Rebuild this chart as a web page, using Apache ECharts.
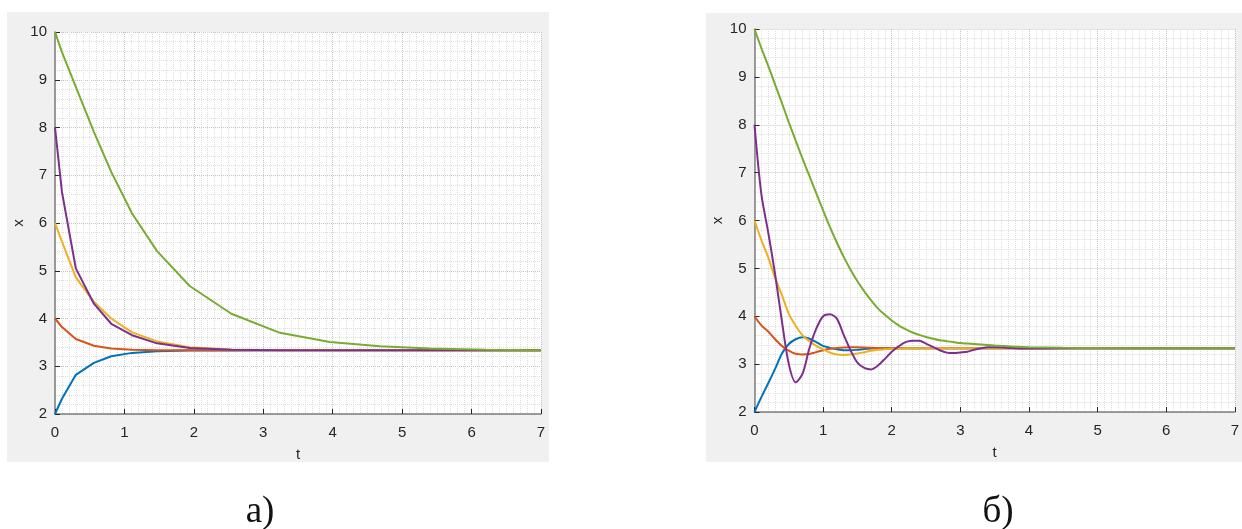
<!DOCTYPE html>
<html>
<head>
<meta charset="utf-8">
<script src="https://cdn.jsdelivr.net/npm/echarts@6/dist/echarts.min.js"></script>
<style>
html,body{margin:0;padding:0;background:#fff;}
#chart{width:1242px;height:529px;}
</style>
</head>
<body>
<div id="chart"></div>
<script>
// ---------- Panel а) : solver time points and values ----------
var tA = [0, 0.1, 0.3, 0.56, 0.81, 1.11, 1.47, 1.94, 2.54, 3.24, 3.96, 4.68, 5.40, 6.2, 7.0];
var xA_blue   = [2.0, 2.32, 2.82, 3.07, 3.21, 3.28, 3.315, 3.328, 3.332, 3.333, 3.333, 3.333, 3.333, 3.333, 3.333];
var xA_orange = [4.0, 3.82, 3.57, 3.43, 3.37, 3.345, 3.336, 3.334, 3.333, 3.333, 3.333, 3.333, 3.333, 3.333, 3.333];
var xA_yellow = [6.0, 5.61, 4.86, 4.35, 4.0, 3.71, 3.52, 3.40, 3.35, 3.337, 3.334, 3.333, 3.333, 3.333, 3.333];
var xA_purple = [8.0, 6.65, 5.05, 4.31, 3.89, 3.65, 3.48, 3.38, 3.345, 3.335, 3.333, 3.333, 3.333, 3.333, 3.333];
var xA_green  = [10.0, 9.58, 8.85, 7.91, 7.07, 6.20, 5.41, 4.68, 4.10, 3.70, 3.51, 3.42, 3.37, 3.345, 3.335];

// ---------- Panel б) ----------
var tB = [0, 0.1, 0.2, 0.3, 0.4, 0.5, 0.6, 0.7, 0.8, 0.9, 1.0, 1.1, 1.2, 1.3, 1.4, 1.5, 1.6, 1.7, 1.8, 1.9,
          2.0, 2.1, 2.2, 2.3, 2.4, 2.5, 2.6, 2.7, 2.8, 2.9, 3.0, 3.1, 3.2, 3.3, 3.4, 3.5, 3.75, 4.0, 4.5, 5.0, 6.0, 7.0];
var xB_blue   = [2.0, 2.31, 2.60, 2.90, 3.22, 3.42, 3.52, 3.56, 3.53, 3.46, 3.38, 3.34, 3.31, 3.29, 3.29, 3.30, 3.315, 3.325, 3.33, 3.333,
                 3.333, 3.333, 3.333, 3.333, 3.333, 3.333, 3.333, 3.333, 3.333, 3.333, 3.333, 3.333, 3.333, 3.333, 3.333, 3.333, 3.333, 3.333, 3.333, 3.333, 3.333, 3.333];
var xB_orange = [4.0, 3.81, 3.68, 3.52, 3.38, 3.28, 3.215, 3.20, 3.21, 3.25, 3.29, 3.32, 3.335, 3.345, 3.35, 3.35, 3.345, 3.34, 3.335, 3.333,
                 3.333, 3.333, 3.333, 3.333, 3.333, 3.333, 3.333, 3.333, 3.333, 3.333, 3.333, 3.333, 3.333, 3.333, 3.333, 3.333, 3.333, 3.333, 3.333, 3.333, 3.333, 3.333];
var xB_yellow = [6.0, 5.59, 5.23, 4.80, 4.44, 4.05, 3.80, 3.60, 3.48, 3.38, 3.31, 3.24, 3.20, 3.19, 3.20, 3.22, 3.25, 3.28, 3.30, 3.31,
                 3.32, 3.325, 3.33, 3.333, 3.333, 3.333, 3.333, 3.333, 3.333, 3.333, 3.333, 3.333, 3.333, 3.333, 3.333, 3.333, 3.333, 3.333, 3.333, 3.333, 3.333, 3.333];
var xB_purple = [8.0, 6.55, 5.75, 4.88, 3.89, 3.00, 2.62, 2.80, 3.33, 3.74, 4.00, 4.04, 3.95, 3.61, 3.29, 3.03, 2.92, 2.89, 2.97, 3.11,
                 3.26, 3.37, 3.46, 3.49, 3.49, 3.43, 3.36, 3.29, 3.24, 3.23, 3.245, 3.26, 3.30, 3.33, 3.35, 3.35, 3.335, 3.325, 3.33, 3.333, 3.333, 3.333];
var xB_green  = [10.0, 9.60, 9.23, 8.84, 8.45, 8.05, 7.67, 7.29, 6.93, 6.57, 6.21, 5.86, 5.54, 5.24, 4.97, 4.73, 4.52, 4.33, 4.16, 4.03,
                 3.91, 3.81, 3.73, 3.66, 3.61, 3.565, 3.53, 3.50, 3.48, 3.46, 3.44, 3.43, 3.42, 3.41, 3.40, 3.39, 3.37, 3.355, 3.34, 3.335, 3.333, 3.333];

var xTicks = [0, 1, 2, 3, 4, 5, 6, 7];
var yTicks = [2, 3, 4, 5, 6, 7, 8, 9, 10];
var captions = ['а)', 'б)'];
var seriesNames = ['x1', 'x2', 'x3', 'x4', 'x5'];
var colors = ['#0072BD', '#D95319', '#EDB120', '#7E2F8E', '#77AC30'];

function pairs(t, v) { return t.map(function (tt, i) { return [tt, v[i]]; }); }

var labelStyle = { fontFamily: 'Liberation Sans', fontSize: 15, color: '#262626' };

function xAxisDef(gi) {
  return {
    gridIndex: gi, type: 'value', min: xTicks[0], max: xTicks[xTicks.length - 1], interval: 1,
    name: 't', nameLocation: 'middle', nameGap: 33,
    nameTextStyle: { fontFamily: 'Liberation Sans', fontSize: 15, color: '#262626' },
    axisLine: { show: true, onZero: false, lineStyle: { color: '#7f7f7f', width: 1.5 } },
    axisTick: { show: true, inside: true, length: 5, lineStyle: { color: '#262626', width: 1 } },
    axisLabel: Object.assign({ margin: 11, hideOverlap: false }, labelStyle),
    splitLine: { show: true, lineStyle: { color: '#c4c4c4', type: 'dotted', width: 1 } },
    minorTick: { show: false, splitNumber: 10 },
    minorSplitLine: { show: true, lineStyle: { color: '#dedede', type: 'dotted', width: 1 } }
  };
}
function yAxisDef(gi) {
  return {
    gridIndex: gi, type: 'value', min: yTicks[0], max: yTicks[yTicks.length - 1], interval: 1,
    name: 'x', nameLocation: 'middle', nameGap: 29,
    nameTextStyle: { fontFamily: 'Liberation Sans', fontSize: 15, color: '#262626' },
    axisLine: { show: true, onZero: false, lineStyle: { color: '#7f7f7f', width: 1.5 } },
    axisTick: { show: true, inside: true, length: 5, lineStyle: { color: '#262626', width: 1 } },
    axisLabel: Object.assign({ margin: 8 }, labelStyle),
    splitLine: { show: true, lineStyle: { color: '#c4c4c4', type: 'dotted', width: 1 } },
    minorTick: { show: false, splitNumber: 5 },
    minorSplitLine: { show: true, lineStyle: { color: '#dedede', type: 'dotted', width: 1 } }
  };
}

var dataA = [xA_blue, xA_orange, xA_yellow, xA_purple, xA_green];
var dataB = [xB_blue, xB_orange, xB_yellow, xB_purple, xB_green];
var series = [];
dataA.forEach(function (v, i) {
  series.push({ name: seriesNames[i], type: 'line', xAxisIndex: 0, yAxisIndex: 0, data: pairs(tA, v),
    showSymbol: false, smooth: false, lineStyle: { color: colors[i], width: 2 }, itemStyle: { color: colors[i] } });
});
dataB.forEach(function (v, i) {
  series.push({ name: seriesNames[i], type: 'line', xAxisIndex: 1, yAxisIndex: 1, data: pairs(tB, v),
    showSymbol: false, smooth: 0.3, lineStyle: { color: colors[i], width: 2 }, itemStyle: { color: colors[i] } });
});

var chart = echarts.init(document.getElementById('chart'), null, { renderer: 'canvas' });
chart.setOption({
  animation: false,
  backgroundColor: '#ffffff',
  grid: [
    { left: 55, top: 32, width: 486, height: 382, show: true, backgroundColor: '#ffffff', borderWidth: 0, containLabel: false },
    { left: 754.5, top: 29, width: 487, height: 383, show: true, backgroundColor: '#ffffff', borderWidth: 0, containLabel: false }
  ],
  xAxis: [xAxisDef(0), xAxisDef(1)],
  yAxis: [yAxisDef(0), yAxisDef(1)],
  graphic: [
    { type: 'rect', z: -100, shape: { x: 7, y: 12, width: 542, height: 450 }, style: { fill: '#f0f0f0' } },
    { type: 'rect', z: -100, shape: { x: 706, y: 13, width: 540, height: 449 }, style: { fill: '#f0f0f0' } },
    { type: 'text', x: 260, y: 512, style: { text: captions[0], font: '37px "Liberation Serif"', fill: '#111', textAlign: 'center', textVerticalAlign: 'middle' } },
    { type: 'text', x: 998, y: 512, style: { text: captions[1], font: '37px "Liberation Serif"', fill: '#111', textAlign: 'center', textVerticalAlign: 'middle' } }
  ],
  series: series
});
</script>
</body>
</html>
